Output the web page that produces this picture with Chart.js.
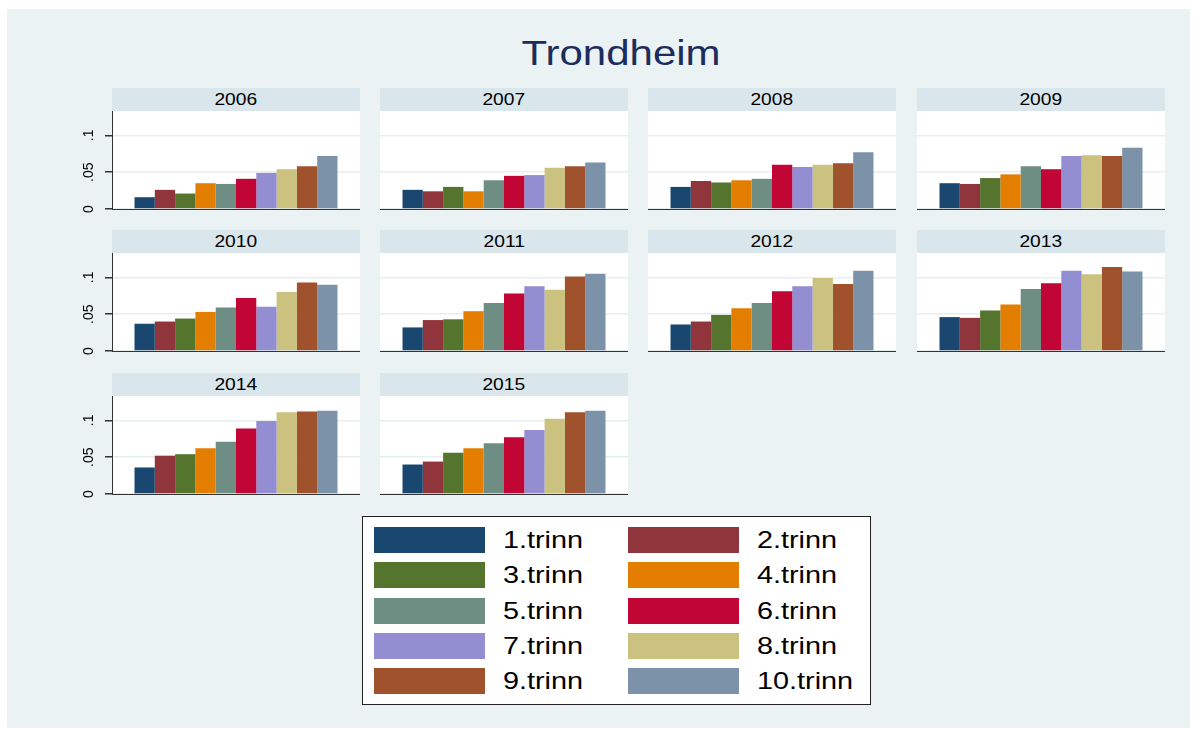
<!DOCTYPE html>
<html>
<head>
<meta charset="utf-8">
<script src="https://cdn.jsdelivr.net/npm/chart.js@4"></script>
<style>
  body { margin: 0; width: 1196px; height: 733px; background: #fff; position: relative; font-family: "Liberation Sans", Arial, sans-serif; overflow: hidden; }
  #bg { position: absolute; left: 7px; top: 9px; width: 1183px; height: 719px; background: #eaf2f3; }
  .abs { position: absolute; }
  .strip { position: absolute; background: #d9e6eb; height: 23px; line-height: 23px; text-align: center; font-size: 16px; color: #000; }
  .strip span, .ttl span, .leglab span { display: inline-block; transform: scaleX(1.2); }
  .ttl { position: absolute; left: 421px; width: 400px; top: 33px; text-align: center; font-size: 35px; color: #1c2c5c; }
  #legend { position: absolute; left: 362px; top: 516px; width: 507px; height: 187px; background: #fff; border: 1px solid #222; }
  .sw { position: absolute; width: 111px; height: 26px; }
  .leglab { position: absolute; font-size: 24px; line-height: 26px; color: #000; }
  .leglab span { transform-origin: left center; }
</style>
</head>
<body>
<div id="bg"></div>
<div class="ttl"><span>Trondheim</span></div>
<div id="panels"></div>
<div id="legend"></div>
<script>
// years shown as panels
const years = ['2006', '2007', '2008', '2009', '2010', '2011', '2012', '2013', '2014', '2015'];
// series (grades)
const trinn = ['1.trinn', '2.trinn', '3.trinn', '4.trinn', '5.trinn', '6.trinn', '7.trinn', '8.trinn', '9.trinn', '10.trinn'];
const colors = ['#1a476f', '#90353b', '#55752f', '#e37e00', '#6e8e84', '#c10534', '#938dd2', '#cac27e', '#a0522d', '#7b92a8'];

// values per year, one per trinn
const v2006 = [0.016, 0.026, 0.021, 0.035, 0.034, 0.041, 0.049, 0.054, 0.058, 0.072];
const v2007 = [0.026, 0.024, 0.030, 0.024, 0.039, 0.045, 0.046, 0.056, 0.058, 0.063];
const v2008 = [0.030, 0.038, 0.036, 0.039, 0.041, 0.060, 0.057, 0.060, 0.062, 0.077];
const v2009 = [0.035, 0.034, 0.042, 0.047, 0.058, 0.054, 0.072, 0.073, 0.072, 0.083];
const v2010 = [0.037, 0.040, 0.044, 0.053, 0.059, 0.072, 0.060, 0.080, 0.093, 0.090];
const v2011 = [0.032, 0.042, 0.043, 0.054, 0.065, 0.078, 0.088, 0.083, 0.101, 0.105];
const v2012 = [0.036, 0.040, 0.049, 0.058, 0.065, 0.081, 0.088, 0.099, 0.091, 0.109];
const v2013 = [0.046, 0.045, 0.055, 0.063, 0.084, 0.092, 0.109, 0.104, 0.114, 0.108];
const v2014 = [0.036, 0.052, 0.054, 0.062, 0.071, 0.089, 0.099, 0.111, 0.112, 0.113];
const v2015 = [0.040, 0.044, 0.056, 0.062, 0.069, 0.077, 0.087, 0.102, 0.111, 0.113];
const values = [v2006, v2007, v2008, v2009, v2010, v2011, v2012, v2013, v2014, v2015];

const yTicks = [0, 0.05, 0.1];
const yMax = 0.133;

const colLeft = [112, 380, 648, 917];
const rowTop = [111, 253, 396];
const panelW = 248, plotH = 98, stripH = 23, axisW = 52, pad = 12;

function fmt(v) {
    if (v === 0) return '0';
    return String(v).replace(/^0/, '');
}

const holder = document.getElementById('panels');

years.forEach((yr, k) => {
    const col = k % 4, row = Math.floor(k / 4);
    const first = col === 0;

    const strip = document.createElement('div');
    strip.className = 'strip';
    strip.style.left = colLeft[col] + 'px';
    strip.style.top = (rowTop[row] - stripH) + 'px';
    strip.style.width = panelW + 'px';
    strip.innerHTML = '<span>' + yr + '</span>';
    holder.appendChild(strip);

    const cv = document.createElement('canvas');
    cv.className = 'abs';
    cv.width = first ? panelW + axisW : panelW;
    cv.height = plotH + 2 * pad;
    cv.style.left = (colLeft[col] - (first ? axisW : 0)) + 'px';
    cv.style.top = (rowTop[row] - pad) + 'px';
    holder.appendChild(cv);

    new Chart(cv.getContext('2d'), {
        type: 'bar',
        data: {
            labels: [yr],
            datasets: trinn.map((t, i) => ({
                label: t,
                data: [values[k][i]],
                backgroundColor: colors[i],
                borderWidth: 0,
                categoryPercentage: 0.8185,
                barPercentage: 1
            }))
        },
        options: {
            responsive: false,
            animation: false,
            layout: { padding: { left: 0, right: 0, top: pad, bottom: pad } },
            plugins: { legend: { display: false }, tooltip: { enabled: false } },
            scales: {
                x: {
                    ticks: { display: false },
                    grid: { display: false, drawTicks: false },
                    border: { color: '#333', width: 1 },
                    afterFit: s => { s.height = 0; s.paddingLeft = 0; s.paddingRight = 0; }
                },
                y: {
                    min: 0,
                    max: yMax,
                    afterBuildTicks: s => { s.ticks = yTicks.map(v => ({ value: v })); },
                    ticks: {
                        display: first,
                        minRotation: 90,
                        maxRotation: 90,
                        crossAlign: 'center',
                        padding: 6,
                        color: '#000',
                        font: { size: 14, family: 'Liberation Sans, Arial' },
                        callback: v => fmt(v)
                    },
                    grid: {
                        color: '#e6eef0',
                        lineWidth: 1.5,
                        drawTicks: first,
                        tickLength: 7,
                        tickColor: '#333'
                    },
                    border: { display: first, color: '#333', width: 1 },
                    afterFit: s => {
                        s.width = first ? axisW : 0;
                        s.paddingTop = 0;
                        s.paddingBottom = 0;
                    }
                }
            }
        },
        plugins: [{
            id: 'whitePlot',
            beforeDraw(chart) {
                const a = chart.chartArea, c = chart.ctx;
                c.save();
                c.fillStyle = '#fff';
                c.fillRect(a.left, a.top, a.right - a.left, a.bottom - a.top);
                c.restore();
            }
        }]
    });
});

// legend built from the series arrays
const leg = document.getElementById('legend');
trinn.forEach((t, i) => {
    const c = i % 2, r = Math.floor(i / 2);
    const top = 10 + r * 35.3;
    const sw = document.createElement('div');
    sw.className = 'sw';
    sw.style.left = (c === 0 ? 11 : 265) + 'px';
    sw.style.top = top + 'px';
    sw.style.background = colors[i];
    leg.appendChild(sw);
    const lb = document.createElement('div');
    lb.className = 'leglab';
    lb.style.left = (c === 0 ? 140 : 394) + 'px';
    lb.style.top = top + 'px';
    lb.innerHTML = '<span>' + t + '</span>';
    leg.appendChild(lb);
});
</script>
</body>
</html>
